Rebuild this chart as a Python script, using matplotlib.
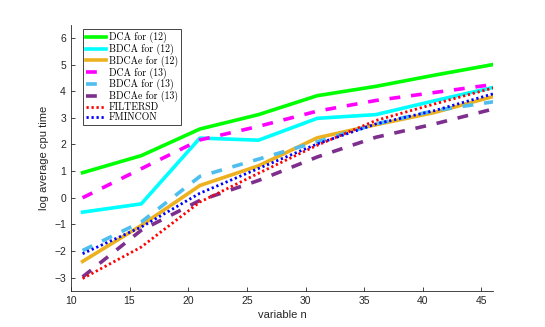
import matplotlib
matplotlib.use("Agg")
import matplotlib.pyplot as plt

# problem sizes
n_vars = [11, 16, 21, 26, 31, 36, 41, 46]

# log average cpu time per method
dca12 = [0.94, 1.58, 2.58, 3.12, 3.83, 4.18, 4.6, 5.0]
bdca12 = [-0.54, -0.23, 2.24, 2.16, 2.98, 3.12, 3.64, 4.14]
bdcae12 = [-2.39, -1.04, 0.46, 1.2, 2.25, 2.74, 3.2, 3.8]
dca13 = [0.0, 1.09, 2.17, 2.68, 3.25, 3.65, 3.95, 4.25]
bdca13 = [-1.98, -0.91, 0.8, 1.45, 2.1, 2.77, 3.27, 3.6]
bdcae13 = [-2.97, -1.22, -0.1, 0.65, 1.53, 2.27, 2.77, 3.33]
filtersd = [-3.03, -1.85, -0.16, 0.92, 1.97, 2.9, 3.52, 4.12]
fmincon = [-2.1, -1.1, 0.17, 1.1, 2.02, 2.77, 3.27, 3.9]

labels = ["DCA for (12)", "BDCA for (12)", "BDCAe for (12)",
          "DCA for (13)", "BDCA for (13)", "BDCAe for (13)",
          "FILTERSD", "FMINCON"]

plt.rcParams['font.family'] = ['Liberation Sans', 'DejaVu Sans']

fig = plt.figure(figsize=(5.45, 3.27), dpi=100)
ax = fig.add_axes([0.13, 0.11, 0.775, 0.815])

ax.plot(n_vars, dca12, color='#00ff00', lw=2.6, label=labels[0])
ax.plot(n_vars, bdca12, color='#00ffff', lw=2.6, label=labels[1])
ax.plot(n_vars, bdcae12, color='#edb120', lw=2.6, label=labels[2])
ax.plot(n_vars, dca13, color='#ff00ff', lw=2.6, ls=(0, (3, 3)), label=labels[3])
ax.plot(n_vars, bdca13, color='#4dbeee', lw=2.6, ls=(0, (3, 3)), label=labels[4])
ax.plot(n_vars, bdcae13, color='#7e2f8e', lw=2.6, ls=(0, (3, 3)), label=labels[5])
ax.plot(n_vars, filtersd, color='#ff0000', lw=2.0, ls=(0, (0.8, 1.0)), label=labels[6])
ax.plot(n_vars, fmincon, color='#0000ff', lw=2.0, ls=(0, (0.8, 1.0)), label=labels[7])

ax.set_xlim(10, 46)
ax.set_ylim(-3.5, 6.5)
ax.set_xticks([10, 15, 20, 25, 30, 35, 40, 45])
ax.set_yticks(range(-3, 7))

for s in ['top', 'right']:
    ax.spines[s].set_visible(False)
for s in ['left', 'bottom']:
    ax.spines[s].set_color('#262626')
    ax.spines[s].set_linewidth(0.6)
ax.tick_params(direction='in', length=3, width=0.6, colors='#262626', labelsize=7.5)

ax.set_xlabel('variable n', fontsize=8, color='#262626', labelpad=3)
ax.set_ylabel('log average cpu time', fontsize=8, color='#262626', labelpad=4)

leg = ax.legend(loc='upper left', bbox_to_anchor=(0.025, 0.99), prop={'family': 'cmr10', 'size': 7.1},
                handlelength=2.0, handletextpad=0.3, labelspacing=0.05, borderpad=0.3,
                borderaxespad=0.2, fancybox=False, framealpha=1, edgecolor='#262626')
leg.get_frame().set_linewidth(0.6)

fig.savefig('out.png', dpi=100)
